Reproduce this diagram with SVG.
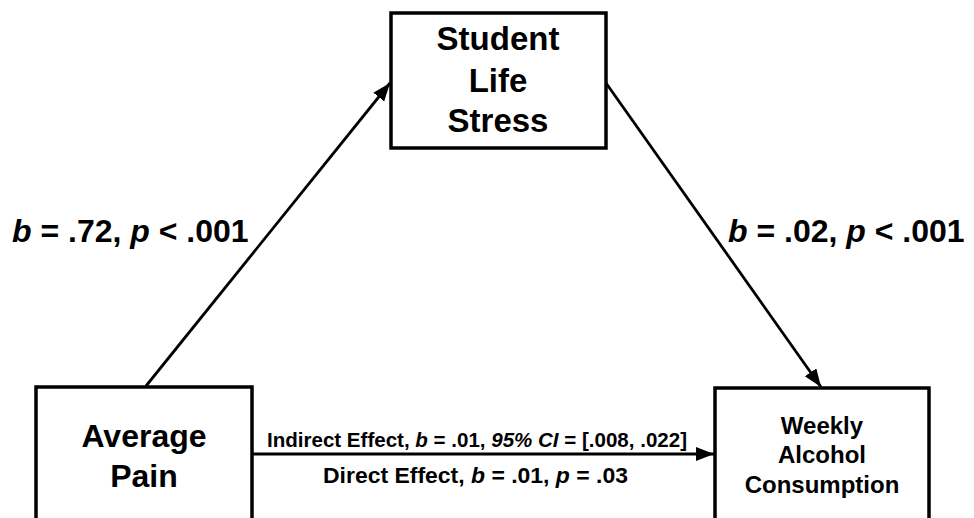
<svg xmlns="http://www.w3.org/2000/svg" width="974" height="518" viewBox="0 0 974 518">
<style>
.box{fill:#fff;stroke:#000;stroke-width:3.5}
.t{font-family:"Liberation Sans",Arial,sans-serif;font-weight:bold;fill:#000;text-anchor:middle}
.lbl{font-family:"Liberation Sans",Arial,sans-serif;font-weight:bold;fill:#000}
.conn{stroke:#000;stroke-width:2.8;fill:none}
</style>
<defs>
<marker id="ah" markerWidth="19" markerHeight="15" refX="18" refY="7" orient="auto" markerUnits="userSpaceOnUse">
<path d="M0,0 L18,7 L0,14 z" fill="#000"/>
</marker>
</defs>
<rect width="974" height="518" fill="#fff"/>
<g id="connectors">
<line class="conn" x1="146" y1="386" x2="390" y2="83" marker-end="url(#ah)"/>
<line class="conn" x1="606" y1="83" x2="821" y2="387" marker-end="url(#ah)"/>
<line class="conn" x1="252" y1="454" x2="714" y2="454" stroke-width="3.2" marker-end="url(#ah)"/>
</g>
<g id="stress">
<rect class="box" x="391" y="13" width="215" height="135"/>
<text class="t" x="498" y="50" font-size="33">Student</text>
<text class="t" x="498" y="92" font-size="33">Life</text>
<text class="t" x="498" y="132" font-size="33">Stress</text>
</g>
<g id="pain">
<rect class="box" x="36" y="387" width="216" height="150"/>
<text class="t" x="144" y="447" font-size="32">Average</text>
<text class="t" x="144" y="487" font-size="32">Pain</text>
</g>
<g id="alcohol">
<rect class="box" x="715" y="388" width="214" height="150"/>
<text class="t" x="822" y="434" font-size="24">Weekly</text>
<text class="t" x="822" y="463" font-size="24">Alcohol</text>
<text class="t" x="822" y="493" font-size="24">Consumption</text>
</g>
<g id="labels">
<text class="lbl" x="12" y="242" font-size="32"><tspan font-style="italic">b</tspan> = .72, <tspan font-style="italic">p</tspan> &lt; .001</text>
<text class="lbl" x="728" y="242" font-size="32"><tspan font-style="italic">b</tspan> = .02, <tspan font-style="italic">p</tspan> &lt; .001</text>
<text class="lbl" x="267" y="447" font-size="20.5" textLength="420" lengthAdjust="spacingAndGlyphs">Indirect Effect, <tspan font-style="italic">b</tspan> = .01, <tspan font-style="italic">95% CI</tspan> = [.008, .022]</text>
<text class="lbl" x="323" y="483" font-size="21.5" textLength="305" lengthAdjust="spacingAndGlyphs">Direct Effect, <tspan font-style="italic">b</tspan> = .01, <tspan font-style="italic">p</tspan> = .03</text>
</g>
</svg>
